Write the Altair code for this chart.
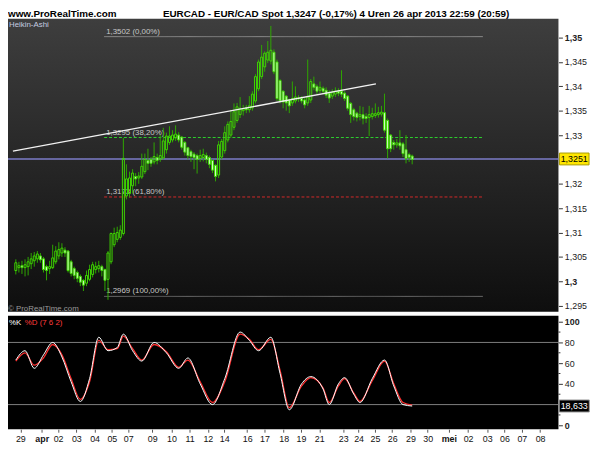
import altair as alt
import pandas as pd

# ---------------- data ----------------
# Heikin-Ashi 4h candles, EUR/CAD, 29 mar - 26 apr 2013
ha_open = [1.3022, 1.3028, 1.3032, 1.3028, 1.3030, 1.3036, 1.3042, 1.3046, 1.3052, 1.3046,
           1.3030, 1.3026, 1.3028, 1.3040, 1.3052, 1.3058, 1.3064, 1.3062, 1.3040, 1.3026,
           1.3018, 1.3010, 1.3002, 1.2996, 1.3004, 1.3014, 1.3024, 1.3026, 1.3030, 1.3024,
           1.3004, 1.3040, 1.3075, 1.3086, 1.3090, 1.3098, 1.3175, 1.3180, 1.3196, 1.3215,
           1.3212, 1.3214, 1.3225, 1.3248, 1.3250, 1.3245, 1.3254, 1.3250, 1.3253, 1.3270,
           1.3285, 1.3290, 1.3294, 1.3300, 1.3296, 1.3285, 1.3274, 1.3266, 1.3261, 1.3258,
           1.3252, 1.3254, 1.3258, 1.3254, 1.3248, 1.3238, 1.3218, 1.3255, 1.3268, 1.3290,
           1.3300, 1.3316, 1.3330, 1.3342, 1.3350, 1.3356, 1.3352, 1.3356, 1.3370, 1.3395,
           1.3420, 1.3440, 1.3454, 1.3452, 1.3470, 1.3450, 1.3412, 1.3390, 1.3380, 1.3372,
           1.3366, 1.3370, 1.3376, 1.3375, 1.3372, 1.3366, 1.3372, 1.3405, 1.3400, 1.3392,
           1.3396, 1.3392, 1.3386, 1.3380, 1.3384, 1.3390, 1.3390, 1.3386, 1.3380, 1.3365,
           1.3352, 1.3345, 1.3338, 1.3342, 1.3338, 1.3336, 1.3338, 1.3340, 1.3342, 1.3343,
           1.3346, 1.3330, 1.3300, 1.3285, 1.3280, 1.3284, 1.3282, 1.3270, 1.3260, 1.3257]
ha_close = [1.3038, 1.3032, 1.3028, 1.3034, 1.3040, 1.3046, 1.3052, 1.3056, 1.3044, 1.3024,
            1.3022, 1.3030, 1.3048, 1.3062, 1.3065, 1.3068, 1.3058, 1.3022, 1.3016, 1.3012,
            1.3006, 1.2998, 1.2992, 1.3012, 1.3024, 1.3034, 1.3030, 1.3032, 1.3022, 1.3002,
            1.3058, 1.3098, 1.3098, 1.3100, 1.3105, 1.3252, 1.3210, 1.3212, 1.3222, 1.3210,
            1.3216, 1.3236, 1.3250, 1.3242, 1.3242, 1.3256, 1.3248, 1.3258, 1.3288, 1.3298,
            1.3298, 1.3300, 1.3302, 1.3290, 1.3275, 1.3265, 1.3258, 1.3256, 1.3254, 1.3250,
            1.3258, 1.3260, 1.3250, 1.3240, 1.3228, 1.3215, 1.3280, 1.3287, 1.3305, 1.3322,
            1.3328, 1.3348, 1.3358, 1.3355, 1.3354, 1.3352, 1.3360, 1.3384, 1.3420, 1.3450,
            1.3460, 1.3468, 1.3470, 1.3474, 1.3430, 1.3375, 1.3370, 1.3368, 1.3366, 1.3360,
            1.3375, 1.3378, 1.3374, 1.3370, 1.3362, 1.3378, 1.3410, 1.3398, 1.3390, 1.3398,
            1.3390, 1.3382, 1.3376, 1.3388, 1.3390, 1.3386, 1.3384, 1.3375, 1.3355, 1.3342,
            1.3338, 1.3336, 1.3342, 1.3334, 1.3334, 1.3342, 1.3344, 1.3344, 1.3346, 1.3347,
            1.3310, 1.3272, 1.3272, 1.3280, 1.3284, 1.3278, 1.3262, 1.3252, 1.3254, 1.3250]
ha_high = [1.3045, 1.3040, 1.3042, 1.3045, 1.3050, 1.3058, 1.3060, 1.3062, 1.3058, 1.3050,
           1.3034, 1.3042, 1.3075, 1.3072, 1.3080, 1.3078, 1.3070, 1.3064, 1.3044, 1.3030,
           1.3022, 1.3014, 1.3004, 1.3022, 1.3034, 1.3040, 1.3040, 1.3042, 1.3034, 1.3026,
           1.3062, 1.3100, 1.3110, 1.3112, 1.3115, 1.3294, 1.3240, 1.3225, 1.3230, 1.3222,
           1.3224, 1.3262, 1.3262, 1.3272, 1.3255, 1.3285, 1.3262, 1.3300, 1.3315, 1.3305,
           1.3318, 1.3310, 1.3320, 1.3306, 1.3298, 1.3288, 1.3276, 1.3270, 1.3265, 1.3262,
           1.3270, 1.3272, 1.3264, 1.3258, 1.3250, 1.3240, 1.3288, 1.3292, 1.3318, 1.3328,
           1.3352, 1.3365, 1.3366, 1.3378, 1.3362, 1.3362, 1.3380, 1.3390, 1.3425, 1.3455,
           1.3485, 1.3472, 1.3493, 1.3524, 1.3476, 1.3455, 1.3415, 1.3392, 1.3382, 1.3375,
           1.3410, 1.3400, 1.3382, 1.3380, 1.3376, 1.3455, 1.3415, 1.3420, 1.3404, 1.3410,
           1.3400, 1.3398, 1.3392, 1.3394, 1.3398, 1.3396, 1.3433, 1.3390, 1.3382, 1.3368,
           1.3356, 1.3348, 1.3360, 1.3358, 1.3345, 1.3360, 1.3356, 1.3365, 1.3358, 1.3360,
           1.3385, 1.3334, 1.3302, 1.3290, 1.3292, 1.3310, 1.3286, 1.3300, 1.3264, 1.3260]
ha_low = [1.3014, 1.3018, 1.3015, 1.3010, 1.3012, 1.3025, 1.3030, 1.3038, 1.3038, 1.3018,
          1.3002, 1.3015, 1.3025, 1.3035, 1.3045, 1.3050, 1.3050, 1.3018, 1.3010, 1.3004,
          1.2998, 1.2990, 1.2980, 1.2990, 1.3000, 1.3008, 1.3016, 1.3018, 1.3010, 1.2980,
          1.2962, 1.3035, 1.3070, 1.3080, 1.3085, 1.3094, 1.3168, 1.3172, 1.3180, 1.3195,
          1.3200, 1.3210, 1.3220, 1.3228, 1.3235, 1.3240, 1.3240, 1.3245, 1.3250, 1.3262,
          1.3280, 1.3285, 1.3288, 1.3285, 1.3270, 1.3258, 1.3250, 1.3245, 1.3230, 1.3221,
          1.3245, 1.3246, 1.3242, 1.3232, 1.3222, 1.3205, 1.3212, 1.3250, 1.3262, 1.3285,
          1.3295, 1.3310, 1.3325, 1.3335, 1.3340, 1.3345, 1.3346, 1.3350, 1.3365, 1.3390,
          1.3415, 1.3430, 1.3448, 1.3445, 1.3425, 1.3370, 1.3365, 1.3355, 1.3350, 1.3345,
          1.3360, 1.3365, 1.3368, 1.3365, 1.3355, 1.3360, 1.3366, 1.3392, 1.3384, 1.3386,
          1.3384, 1.3376, 1.3366, 1.3374, 1.3378, 1.3380, 1.3378, 1.3370, 1.3350, 1.3325,
          1.3330, 1.3328, 1.3330, 1.3322, 1.3325, 1.3298, 1.3332, 1.3335, 1.3336, 1.3338,
          1.3305, 1.3252, 1.3265, 1.3270, 1.3274, 1.3270, 1.3255, 1.3242, 1.3245, 1.3240]

# Stochastic %K / %D (7 6 2), read at candle indices
stoch_idx = [0, 3, 6, 9, 12, 15, 18, 21, 24, 27, 30, 33, 35, 38, 41, 45, 49, 53, 56, 60,
             64, 68, 73, 76, 79, 83, 86, 89, 93, 96, 100, 102, 105, 107, 110, 112, 116, 120, 123, 126, 129]
stoch_k = [63, 72, 55, 68, 80, 66, 42, 23, 45, 85, 72, 75, 88, 72, 62, 80, 70, 55, 65, 40,
           20, 45, 90, 82, 72, 85, 50, 15, 40, 47, 35, 20, 40, 46, 30, 22, 45, 63, 38, 20, 18.6]
stoch_d = [62, 70, 58, 65, 78, 68, 45, 25, 42, 82, 73, 74, 86, 74, 63, 78, 71, 56, 63, 42,
           22, 42, 88, 83, 73, 83, 53, 17, 38, 46, 36, 22, 38, 45, 31, 23, 43, 62, 40, 22, 19.5]

# Fibonacci retracement
fib_prices = [1.3502, 1.3295, 1.3173, 1.2969]
fib_labels = ["1,3502 (0,00%)", "1,3295 (38,20%)", "1,3173 (61,80%)", "1,2969 (100,00%)"]
fib_span = [28.75, 152.0]

# trend line (two anchor points)
trend_idx = [-0.94, 117.2]
trend_price = [1.3267, 1.3405]

last_price = 1.3251
last_price_label = "1,3251"
last_stoch = 18.633
last_stoch_label = "18,633"
stoch_levels = [80, 20]

x_tick_pos = [1.47, 8.44, 13.75, 19.69, 25.63, 31.25, 36.56, 44.38, 50.63, 56.56, 62.5, 67.81,
              75.31, 80.94, 87.19, 92.81, 98.75, 106.56, 111.56, 116.88, 122.5, 128.44, 134.06,
              140.94, 147.19, 153.44, 159.06, 164.69, 170.63]
x_tick_labels = ["29", "apr", "02", "03", "04", "05", "07", "09", "10", "11", "12", "14", "16", "17",
                 "18", "19", "21", "23", "24", "25", "26", "29", "30", "mei", "02", "03", "06", "07", "08"]
# 1,325 is hidden behind the last-price box in the reference
price_ticks = [1.295, 1.3, 1.305, 1.31, 1.315, 1.32, 1.33, 1.335, 1.34, 1.345, 1.35]
stoch_ticks = [0, 40, 60, 80, 100]
stoch_minor_ticks = [10, 30, 50, 70, 90]

header_left = "www.ProRealTime.com"
header_center = "EURCAD - EUR/CAD Spot    1,3247 (-0,17%)    4 Uren  26 apr 2013 22:59 (20:59)"

# ---------------- styles / layout ----------------
W, H = 558, 416
MAIN_BOTTOM = 297
STOCH_TOP = 301
FONT = "Liberation Sans"

fib_colors = ["#8c8c8c", "#2ed12e", "#d42a2a", "#6a6a6a"]
fib_dashes = [[1, 0], [3, 2], [3, 2], [1, 0]]

xscale = alt.Scale(domain=[-0.94, 175.0], range=[0, W], nice=False, zero=False)
main_scale = alt.Scale(domain=[1.293725, 1.35385], range=[MAIN_BOTTOM, 0], nice=False, zero=False)
stoch_scale = alt.Scale(domain=[-3.81, 105.71], range=[H, STOCH_TOP], nice=False, zero=False)

label_arr = "[" + ",".join("'%s'" % s for s in x_tick_labels) + "]"
pos_arr = "[" + ",".join(str(p) for p in x_tick_pos) + "]"
bold_x = " || ".join("datum.value == %s" % x_tick_pos[k]
                     for k, s in enumerate(x_tick_labels) if s in ("apr", "mei"))

xaxis = alt.Axis(values=x_tick_pos, labelExpr=f"{label_arr}[indexof({pos_arr}, datum.value)]",
                 title=None, grid=False, domain=False, tickColor="#555", tickSize=3,
                 labelColor="#111", labelFont=FONT, labelFontSize=9, labelPadding=2,
                 labelOverlap=False, labelFlush=False,
                 labelFontWeight={"condition": {"test": bold_x, "value": "bold"}, "value": "normal"})

main_axis = alt.Axis(orient="right", values=price_ticks,
                     labelExpr="replace(format(datum.value, '.4~f'), '.', ',')",
                     title=None, grid=False, domain=False, tickColor="#333", tickSize=4,
                     labelColor="#222", labelFont=FONT, labelFontSize=9, labelPadding=2,
                     labelOverlap=False,
                     labelFontWeight={"condition": {"test": "datum.value == 1.35 || datum.value == 1.3",
                                                    "value": "bold"}, "value": "normal"})
stoch_axis = alt.Axis(orient="right", values=stoch_ticks, title=None, grid=False, domain=False,
                      tickColor="#333", tickSize=4, labelColor="#222", labelFont=FONT,
                      labelFontSize=9, labelPadding=2, labelOverlap=False,
                      labelFontWeight={"condition": {"test": "datum.value == 0 || datum.value == 100",
                                                     "value": "bold"}, "value": "normal"})


def X(field="i"):
    return alt.X(f"{field}:Q", scale=xscale, axis=xaxis)


def YM(field):
    return alt.Y(f"{field}:Q", scale=main_scale, axis=main_axis)


def YS(field):
    return alt.Y(f"{field}:Q", scale=stoch_scale, axis=stoch_axis)


one = pd.DataFrame({"k": [0]})

# ---------------- main panel ----------------
bg_main = alt.Chart(one).mark_rect(
    fill=alt.Gradient(gradient="linear",
                      stops=[alt.GradientStop(color="#3e3e3e", offset=0),
                             alt.GradientStop(color="#0e0e0e", offset=1)],
                      x1=0, x2=0, y1=0, y2=1)
).encode(x=alt.value(0), x2=alt.value(W), y=alt.value(0), y2=alt.value(MAIN_BOTTOM))

cdf = pd.DataFrame({"i": list(range(len(ha_open))), "o": ha_open, "h": ha_high,
                    "l": ha_low, "c": ha_close})
cbase = alt.Chart(cdf).transform_calculate(top="max(datum.o, datum.c)", bot="min(datum.o, datum.c)")

wick_up = cbase.mark_rule(color="#2fa800", strokeWidth=1).encode(x=X(), y=YM("h"), y2="top:Q")
wick_dn = cbase.mark_rule(color="#2fa800", strokeWidth=1).encode(x=X(), y=YM("bot"), y2="l:Q")
bodies = cbase.mark_bar(width=2, stroke="#3fd800", strokeWidth=1).encode(
    x=X(), y=YM("top"), y2="bot:Q",
    fill=alt.condition("datum.c >= datum.o", alt.value("transparent"), alt.value("#d6ffc8")))

last_df = pd.DataFrame({"p": [last_price], "lab": [last_price_label]})
last_line = alt.Chart(last_df).mark_rule(color="#7c7cc8", strokeWidth=1.5).encode(
    x=alt.value(0), x2=alt.value(W), y=YM("p"))

fib_layers = []
for k in range(len(fib_prices)):
    fdf = pd.DataFrame({"i": [fib_span[0]], "i2": [fib_span[1]], "p": [fib_prices[k]],
                        "lab": [fib_labels[k]]})
    fib_layers.append(alt.Chart(fdf).mark_rule(color=fib_colors[k], strokeWidth=1,
                                               strokeDash=fib_dashes[k]).encode(
        x=X("i"), x2="i2:Q", y=YM("p")))
    fib_layers.append(alt.Chart(fdf).mark_text(align="left", baseline="bottom", dx=2, dy=-1,
                                               color="#c8c8c8", font=FONT, fontSize=8).encode(
        x=X("i"), y=YM("p"), text="lab:N"))

tdf = pd.DataFrame({"i": trend_idx, "p": trend_price})
trend = alt.Chart(tdf).mark_line(color="#f2f2f2", strokeWidth=1.3).encode(x=X(), y=YM("p"))

last_box = alt.Chart(last_df).mark_point(
    shape="M-1,-0.4L1,-0.4L1,0.4L-1,0.4Z", size=900, filled=True, fill="#ffe600",
    stroke="#a89a00", strokeWidth=1, opacity=1).encode(x=alt.value(574), y=YM("p"))
last_txt = alt.Chart(last_df).mark_text(color="#000", font=FONT, fontSize=9).encode(
    x=alt.value(574), y=YM("p"), text="lab:N")

main = alt.layer(bg_main, *fib_layers, last_line, wick_up, wick_dn, bodies, trend,
                 last_box, last_txt)

# ---------------- stochastic panel ----------------
bg_stoch = alt.Chart(one).mark_rect(fill="#000").encode(
    x=alt.value(0), x2=alt.value(W), y=alt.value(STOCH_TOP), y2=alt.value(H))
lvl_df = pd.DataFrame({"v": stoch_levels})
levels = alt.Chart(lvl_df).mark_rule(color="#808080", strokeWidth=1).encode(
    x=alt.value(0), x2=alt.value(W), y=YS("v"))
minor_df = pd.DataFrame({"v": stoch_minor_ticks})
minor = alt.Chart(minor_df).mark_rule(color="#333", strokeWidth=1).encode(
    x=alt.value(W), x2=alt.value(W + 2), y=YS("v"))
sdf = pd.DataFrame({"i": stoch_idx, "k": stoch_k, "d": stoch_d})
line_d = alt.Chart(sdf).mark_line(color="#ff3030", strokeWidth=1.3, interpolate="monotone").encode(
    x=X(), y=YS("d"))
line_k = alt.Chart(sdf).mark_line(color="#ffffff", strokeWidth=1, interpolate="monotone").encode(
    x=X(), y=YS("k"))
sl_df = pd.DataFrame({"v": [last_stoch], "lab": [last_stoch_label]})
st_box = alt.Chart(sl_df).mark_point(
    shape="M-1,-0.4L1,-0.4L1,0.4L-1,0.4Z", size=930, filled=True, fill="#000",
    stroke="#9a9a9a", strokeWidth=1, opacity=1).encode(x=alt.value(574), y=YS("v"))
st_txt = alt.Chart(sl_df).mark_text(color="#fff", font=FONT, fontSize=9).encode(
    x=alt.value(574), y=YS("v"), text="lab:N")

stoch = alt.layer(bg_stoch, levels, minor, line_d, line_k, st_box, st_txt)

# ---------------- texts ----------------
def label(txt, x, y, **kw):
    return alt.Chart(pd.DataFrame({"t": [txt]})).mark_text(align="left", font=FONT, **kw).encode(
        x=alt.value(x), y=alt.value(y), text="t:N")

texts = alt.layer(
    label(header_left, 0, -2, baseline="alphabetic", fontSize=10, fontWeight="bold", color="#000"),
    label(header_center, 157, -2, baseline="alphabetic", fontSize=10, fontWeight="bold", color="#000"),
    label("Heikin-Ashi", 1, 6, baseline="middle", fontSize=8, color="#c4cce0"),
    label("\u00a9 ProRealTime.com", 0, 294, baseline="middle", fontSize=8, color="#9a9a9a"),
    label("%K", 1, 308, baseline="middle", fontSize=8, color="#ffffff"),
    label("%D (7 6 2)", 17, 308, baseline="middle", fontSize=8, color="#ff3a3a"),
)

chart = alt.layer(main, stoch, texts).resolve_scale(y="independent").properties(
    width=W, height=H,
    padding={"left": 0, "top": 8, "right": 34, "bottom": 16},
    autosize=alt.AutoSizeParams(type="none"),
).configure_view(stroke=None)

chart.save("out.html", embed_options={"renderer": "svg", "actions": False})
